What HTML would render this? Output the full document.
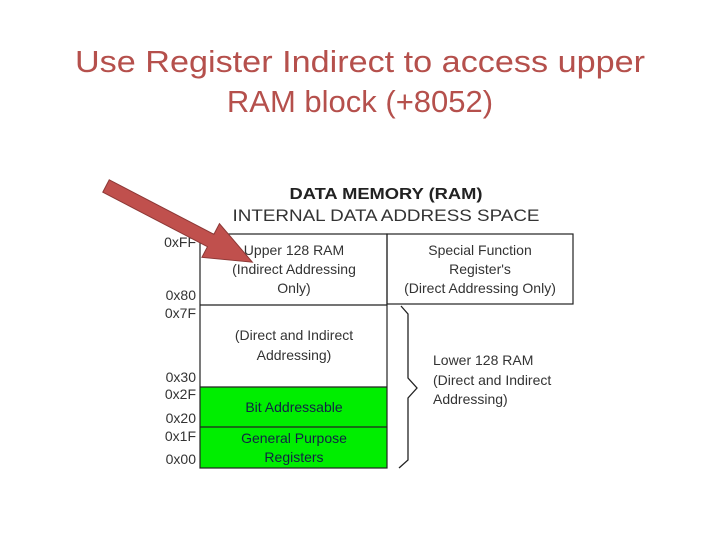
<!DOCTYPE html>
<html><head><meta charset="utf-8"><style>
html,body{margin:0;padding:0;background:#fff;}
svg{display:block;}
</style></head><body>
<svg width="720" height="540" viewBox="0 0 720 540" xmlns="http://www.w3.org/2000/svg" font-family="Liberation Sans, sans-serif">
<text x="360" y="72" text-anchor="middle" font-size="31" fill="#b5504c" textLength="570" lengthAdjust="spacingAndGlyphs">Use Register Indirect to access upper</text>
<text x="360" y="112" text-anchor="middle" font-size="31" fill="#b5504c">RAM block (+8052)</text>

<text x="386" y="199" text-anchor="middle" font-size="16" font-weight="bold" fill="#222" textLength="193" lengthAdjust="spacingAndGlyphs">DATA MEMORY (RAM)</text>
<text x="386" y="221" text-anchor="middle" font-size="17" fill="#333" textLength="307" lengthAdjust="spacingAndGlyphs">INTERNAL DATA  ADDRESS SPACE</text>

<rect x="200" y="387" width="187" height="81" fill="#00ee00"/>
<rect x="200" y="234" width="187" height="234" fill="none" stroke="#222" stroke-width="1.2"/>
<rect x="387" y="234" width="186" height="70" fill="none" stroke="#222" stroke-width="1.2"/>
<line x1="200" y1="305" x2="387" y2="305" stroke="#222" stroke-width="1.2"/>
<line x1="200" y1="387" x2="387" y2="387" stroke="#222" stroke-width="1.2"/>
<line x1="200" y1="427" x2="387" y2="427" stroke="#222" stroke-width="1.2"/>

<g font-size="14" fill="#333" text-anchor="middle">
<text x="294" y="255">Upper 128 RAM</text>
<text x="294" y="274">(Indirect Addressing</text>
<text x="294" y="293">Only)</text>
<text x="480" y="255">Special Function</text>
<text x="480" y="274">Register's</text>
<text x="480" y="293">(Direct Addressing Only)</text>
<text x="294" y="340">(Direct and Indirect</text>
<text x="294" y="360">Addressing)</text>
<text x="294" y="412" fill="#124">Bit Addressable</text>
<text x="294" y="443" fill="#124">General Purpose</text>
<text x="294" y="462" fill="#124">Registers</text>
</g>
<g font-size="14" fill="#333" text-anchor="end">
<text x="196" y="247">0xFF</text>
<text x="196" y="300">0x80</text>
<text x="196" y="318">0x7F</text>
<text x="196" y="382">0x30</text>
<text x="196" y="399">0x2F</text>
<text x="196" y="423">0x20</text>
<text x="196" y="441">0x1F</text>
<text x="196" y="464">0x00</text>
</g>
<path d="M401,306 L408,314 L408,378 L417,388 L408,398 L408,460 L399,468" fill="none" stroke="#222" stroke-width="1.3"/>
<g font-size="14" fill="#333">
<text x="433" y="365">Lower 128 RAM</text>
<text x="433" y="385">(Direct and Indirect</text>
<text x="433" y="404">Addressing)</text>
</g>
<polygon transform="translate(106,186) rotate(27.5)" points="0,-7 118,-7 118,-19 165,0 118,19 118,7 0,7" fill="#c0504d" stroke="#8c3836" stroke-width="1"/>
</svg>
</body></html>
